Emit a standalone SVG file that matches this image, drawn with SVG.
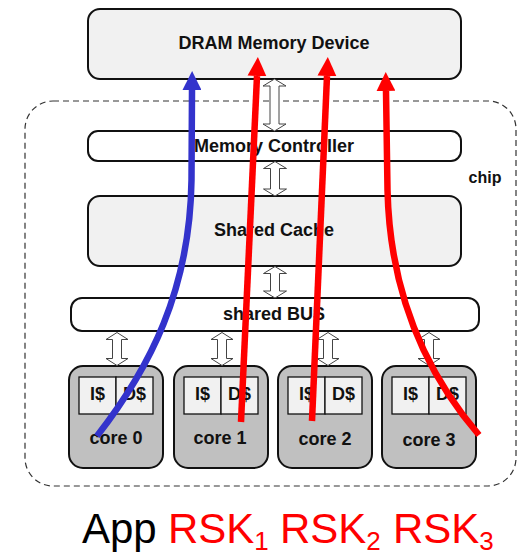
<svg xmlns="http://www.w3.org/2000/svg" width="519" height="555" viewBox="0 0 519 555">
<style>
.box{stroke:#111;stroke-width:2}
.light{fill:#f1f1f1}
.white{fill:#fff}
.core{fill:#c0c0c0}
.cache{fill:#f1f1f1;stroke:#111;stroke-width:1.3}
.lbl{font-family:"Liberation Sans",Arial,sans-serif;font-weight:bold;font-size:18px;fill:#111;text-anchor:middle}
.ha{fill:#fff;stroke:#444;stroke-width:1}
.red{fill:none;stroke:#ff0000;stroke-width:6.5}
.blue{fill:none;stroke:#3333cc;stroke-width:6.5}
</style>
<defs>
<marker id="hr" viewBox="0 0 10 10" refX="0" refY="5" markerUnits="userSpaceOnUse" markerWidth="19" markerHeight="19" orient="auto"><path d="M0,0 L10,5 L0,10 Z" fill="#ff0000"/></marker>
<marker id="hb" viewBox="0 0 10 10" refX="0" refY="5" markerUnits="userSpaceOnUse" markerWidth="19" markerHeight="19" orient="auto"><path d="M0,0 L10,5 L0,10 Z" fill="#3333cc"/></marker>
</defs>

<g id="chip">
<rect x="25" y="101" width="491" height="385" rx="28" fill="none" stroke="#333" stroke-width="1.2" stroke-dasharray="6,4"/>
<text x="485" y="183" class="lbl" style="font-size:16px">chip</text>
</g>

<g id="dram">
<rect x="88" y="9" width="373" height="70" rx="12" class="box light"/>
<text x="274" y="49" class="lbl">DRAM Memory Device</text>
</g>

<g id="memctrl">
<rect x="88" y="131" width="373" height="30" rx="10" class="box white"/>
<text x="274" y="152" class="lbl">Memory Controller</text>
</g>

<g id="sharedcache">
<rect x="88" y="196" width="373" height="70" rx="12" class="box light"/>
<text x="274" y="236" class="lbl">Shared Cache</text>
</g>

<g id="sharedbus">
<rect x="71" y="298" width="408" height="33" rx="11" class="box white"/>
<text x="274" y="320" class="lbl">shared BUS</text>
</g>

<g id="core0">
<rect x="69" y="366" width="94" height="102" rx="14" class="box core"/>
<rect x="79" y="377" width="37" height="37" class="cache"/>
<rect x="116" y="377" width="37" height="37" class="cache"/>
<text x="97.5" y="400" class="lbl">I$</text>
<text x="134.5" y="400" class="lbl">D$</text>
<text x="116" y="444" class="lbl">core 0</text>
</g>
<g id="core1">
<rect x="174" y="366" width="94" height="102" rx="14" class="box core"/>
<rect x="184" y="377" width="37" height="37" class="cache"/>
<rect x="221" y="377" width="37" height="37" class="cache"/>
<text x="202.5" y="400" class="lbl">I$</text>
<text x="239.5" y="400" class="lbl">D$</text>
<text x="220" y="444" class="lbl">core 1</text>
</g>
<g id="core2">
<rect x="278" y="366" width="94" height="102" rx="14" class="box core"/>
<rect x="288" y="377" width="37" height="37" class="cache"/>
<rect x="325" y="377" width="37" height="37" class="cache"/>
<text x="306.5" y="400" class="lbl">I$</text>
<text x="343.5" y="400" class="lbl">D$</text>
<text x="325" y="445" class="lbl">core 2</text>
</g>
<g id="core3">
<rect x="382" y="366" width="94" height="102" rx="14" class="box core"/>
<rect x="392" y="377" width="37" height="37" class="cache"/>
<rect x="429" y="377" width="37" height="37" class="cache"/>
<text x="410.5" y="400" class="lbl">I$</text>
<text x="447.5" y="400" class="lbl">D$</text>
<text x="429" y="446" class="lbl">core 3</text>
</g>

<g id="connectors">
<path class="ha" d="M274.5,79 L286,86 L279,86 L279,124 L286,124 L274.5,131 L263,124 L270,124 L270,86 L263,86 Z"/>
<path class="ha" d="M275,161.5 L286.5,168.5 L279.5,168.5 L279.5,189 L286.5,189 L275,196 L263.5,189 L270.5,189 L270.5,168.5 L263.5,168.5 Z"/>
<path class="ha" d="M275,266.5 L286.5,273.5 L279.5,273.5 L279.5,291 L286.5,291 L275,298 L263.5,291 L270.5,291 L270.5,273.5 L263.5,273.5 Z"/>
<path class="ha" d="M117,332.5 L128,339.5 L121.5,339.5 L121.5,358.5 L128,358.5 L117,365.5 L106,358.5 L112.5,358.5 L112.5,339.5 L106,339.5 Z"/>
<path class="ha" d="M222,332.5 L233,339.5 L226.5,339.5 L226.5,358.5 L233,358.5 L222,365.5 L211,358.5 L217.5,358.5 L217.5,339.5 L211,339.5 Z"/>
<path class="ha" d="M328,332.5 L339,339.5 L332.5,339.5 L332.5,358.5 L339,358.5 L328,365.5 L317,358.5 L323.5,358.5 L323.5,339.5 L317,339.5 Z"/>
<path class="ha" d="M429,332.5 L440,339.5 L433.5,339.5 L433.5,358.5 L440,358.5 L429,365.5 L418,358.5 L424.5,358.5 L424.5,339.5 L418,339.5 Z"/>

<path class="blue" d="M97,436 C150,368 190,290 191.5,180 L192,90" marker-end="url(#hb)"/>
<path class="red" d="M241,422 L257,76" marker-end="url(#hr)"/>
<path class="red" d="M312,421 L327,76" marker-end="url(#hr)"/>
<path class="red" d="M479,435 C430,378 390,300 387.5,190 L386,91" marker-end="url(#hr)"/>
</g>

<g id="legend" font-family="'Liberation Sans',Arial,sans-serif" font-size="42">
<text x="82" y="543" fill="#000">App</text>
<text y="543" fill="#ff0000"><tspan x="168">RSK</tspan><tspan dy="7" font-size="26">1</tspan><tspan x="280" dy="-7">RSK</tspan><tspan dy="7" font-size="26">2</tspan><tspan x="393" dy="-7">RSK</tspan><tspan dy="7" font-size="26">3</tspan></text>
</g>
</svg>
